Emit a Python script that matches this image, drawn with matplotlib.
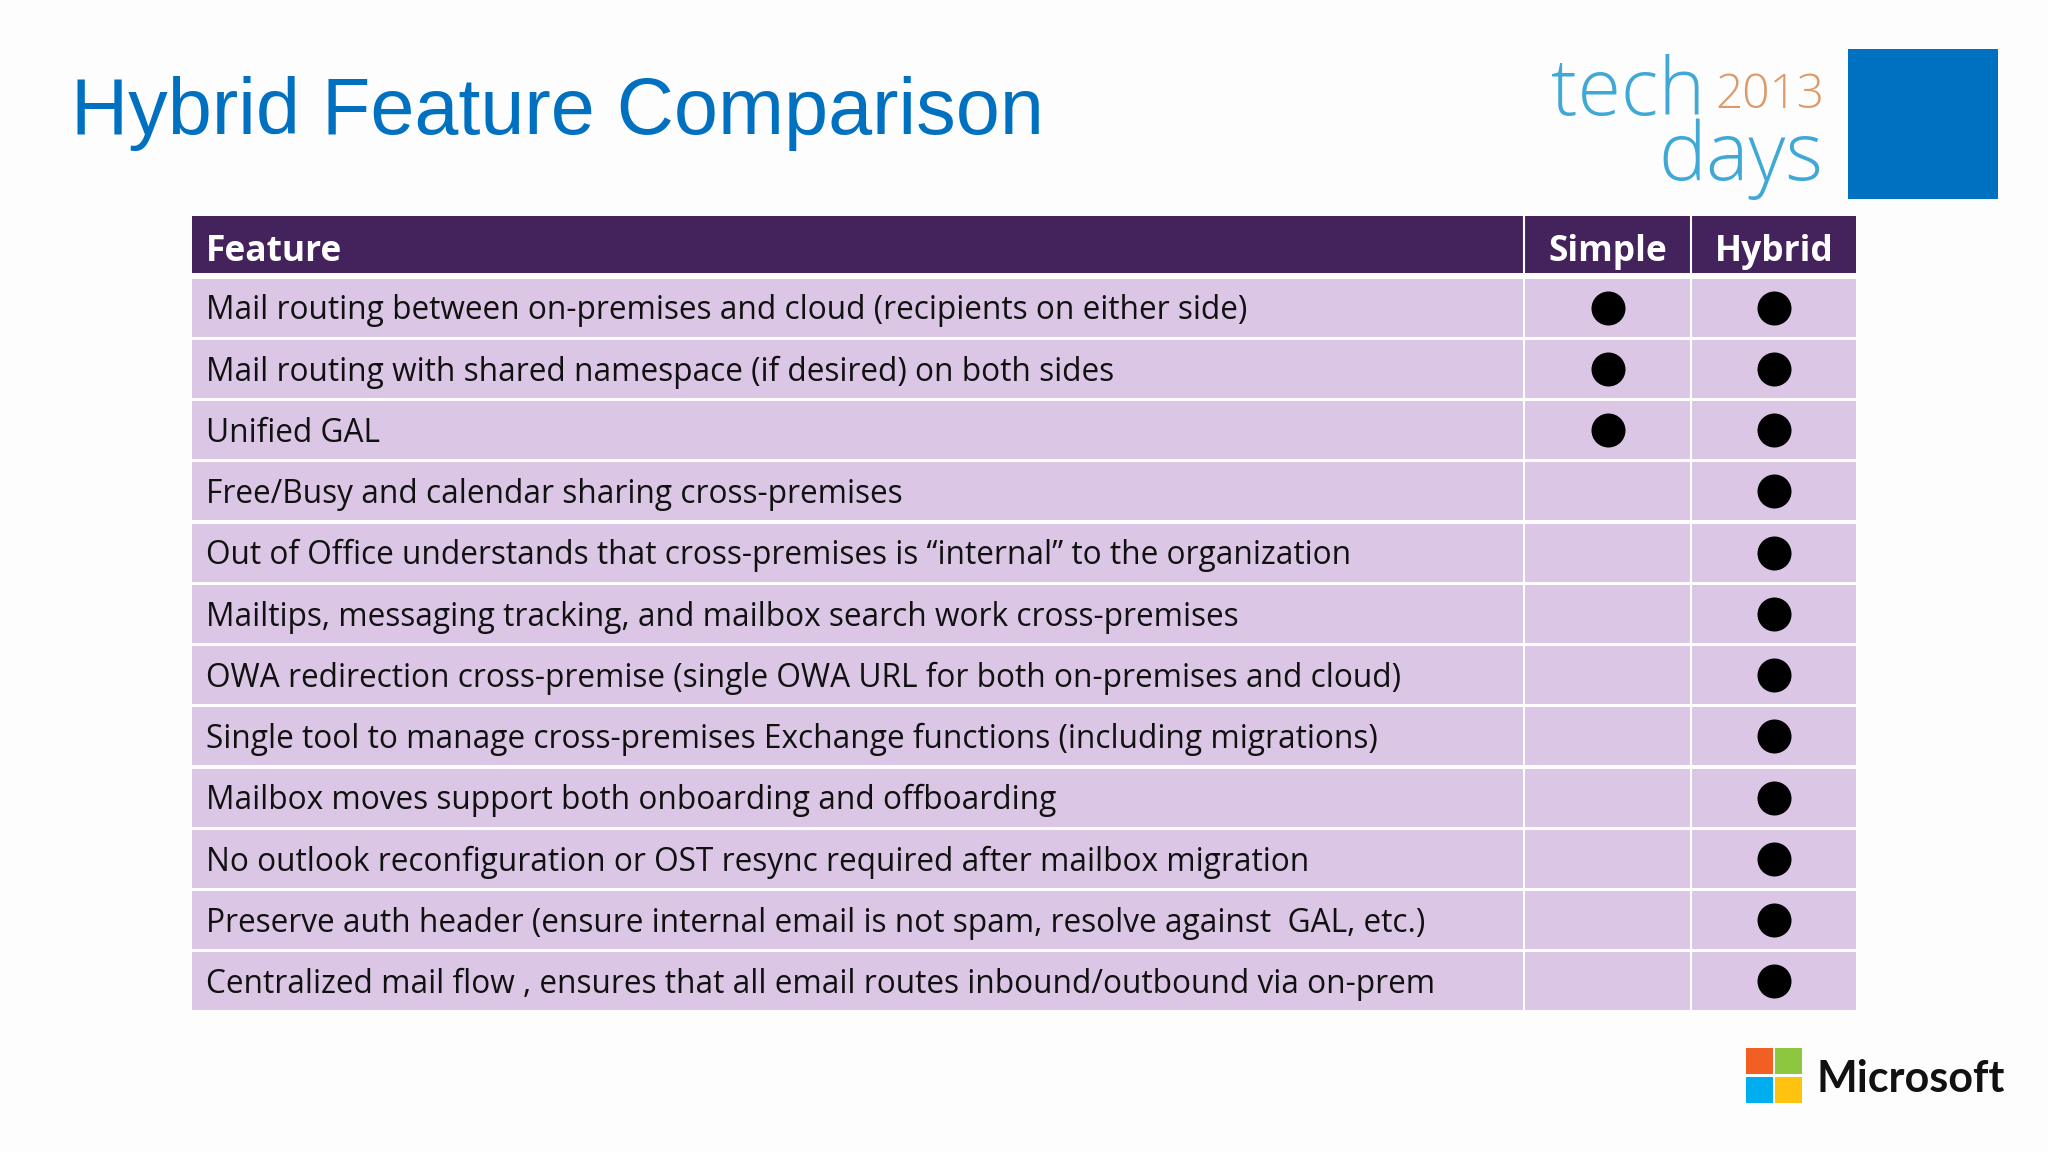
import matplotlib
matplotlib.use('Agg')
import matplotlib.pyplot as plt
from matplotlib.patches import Rectangle

W, H = 2048, 1152

title = "Hybrid Feature Comparison"
columns = ["Feature", "Simple", "Hybrid"]
features = [
    "Mail routing between on-premises and cloud (recipients on either side)",
    "Mail routing with shared namespace (if desired) on both sides",
    "Unified GAL",
    "Free/Busy and calendar sharing cross-premises",
    "Out of Office understands that cross-premises is \u201cinternal\u201d to the organization",
    "Mailtips, messaging tracking, and mailbox search work cross-premises",
    "OWA redirection cross-premise (single OWA URL for both on-premises and cloud)",
    "Single tool to manage cross-premises Exchange functions (including migrations)",
    "Mailbox moves support both onboarding and offboarding",
    "No outlook reconfiguration or OST resync required after mailbox migration",
    "Preserve auth header (ensure internal email is not spam, resolve against  GAL, etc.)",
    "Centralized mail flow , ensures that all email routes inbound/outbound via on-prem",
]
simple = [1, 1, 1, 0, 0, 0, 0, 0, 0, 0, 0, 0]
hybrid = [1, 1, 1, 1, 1, 1, 1, 1, 1, 1, 1, 1]

BLUE = '#0070C0'
HEAD = '#44235C'
ROW = '#DBC7E5'
FONT = 'Open Sans'
TXT_PT = 22.8
LEFT, RIGHT = 192, 1856
COL1, COL2 = 1524, 1691
DOT1, DOT2 = 1608, 1774


def px_axes(x0, y0, x1, y1):
    # axes placed by picture pixels, y going down
    return fig.add_axes([x0 / W, 1 - y1 / H, (x1 - x0) / W, (y1 - y0) / H])


fig = plt.figure(figsize=(W / 100, H / 100), dpi=100, facecolor='#FDFDFD')

# whole-slide layer for title and logos
bg = fig.add_axes([0, 0, 1, 1])
bg.set_xlim(0, W)
bg.set_ylim(H, 0)
bg.axis('off')

bg.text(71, 134, title, color=BLUE, family='Liberation Sans', fontsize=57, va='baseline')

bg.add_patch(Rectangle((1848, 49), 150, 150, color=BLUE, lw=0))
bg.text(1551, 115, "tech", color='#3FA8D6', family='Open Sans', weight='light', fontsize=57, va='baseline')
bg.text(1715, 108, "2013", color='#DD9A68', family='Open Sans', weight='light', fontsize=34.5, va='baseline')
bg.text(1823, 180, "days", color='#3FA8D6', family='Open Sans', weight='light', fontsize=58, va='baseline', ha='right')

for (x, y, c) in [(1746, 1048, '#F25F22'), (1775, 1048, '#8DC63F'),
                  (1746, 1077, '#00AEEF'), (1775, 1077, '#FFC20E')]:
    bg.add_patch(Rectangle((x, y), 27, 26, color=c, lw=0))
bg.text(1816, 1092, "Microsoft", color='#111111', family='Lato', weight='bold', fontsize=31, va='baseline')

# header strip
head = px_axes(LEFT, 216, RIGHT, 273)
head.set_xlim(LEFT, RIGHT)
head.set_ylim(1, 0)
head.axis('off')
head.barh([0.5], [RIGHT - LEFT], height=1, left=LEFT, color=HEAD)
head.text(206, 0.79, columns[0], color='white', family=FONT, weight='bold', fontsize=25.5, va='baseline')
head.text(DOT1, 0.79, columns[1], color='white', family=FONT, weight='bold', fontsize=25.5, va='baseline', ha='center')
head.text(DOT2, 0.79, columns[2], color='white', family=FONT, weight='bold', fontsize=25.5, va='baseline', ha='center')
for x in (COL1, COL2):
    head.axvline(x, color='white', lw=1.5)

# table body, one unit per row
body = px_axes(LEFT, 277, RIGHT, 1012)
body.set_xlim(LEFT, RIGHT)
body.set_ylim(len(features), 0)
body.axis('off')

rows = list(range(len(features)))
body.barh([r + 0.5 for r in rows], [RIGHT - LEFT] * len(rows), height=0.95, left=LEFT, color=ROW)
for x in (COL1, COL2):
    body.axvline(x, color='white', lw=1.5)

for r, label in zip(rows, features):
    body.text(206, r + 0.69, label, color='#111111', family=FONT, fontsize=TXT_PT, va='baseline')

body.scatter([DOT1] * sum(simple), [r + 0.5 for r in rows if simple[r]], s=600, color='black', lw=0, zorder=3)
body.scatter([DOT2] * sum(hybrid), [r + 0.5 for r in rows if hybrid[r]], s=600, color='black', lw=0, zorder=3)

fig.savefig('out.png', dpi=100, facecolor=fig.get_facecolor())
